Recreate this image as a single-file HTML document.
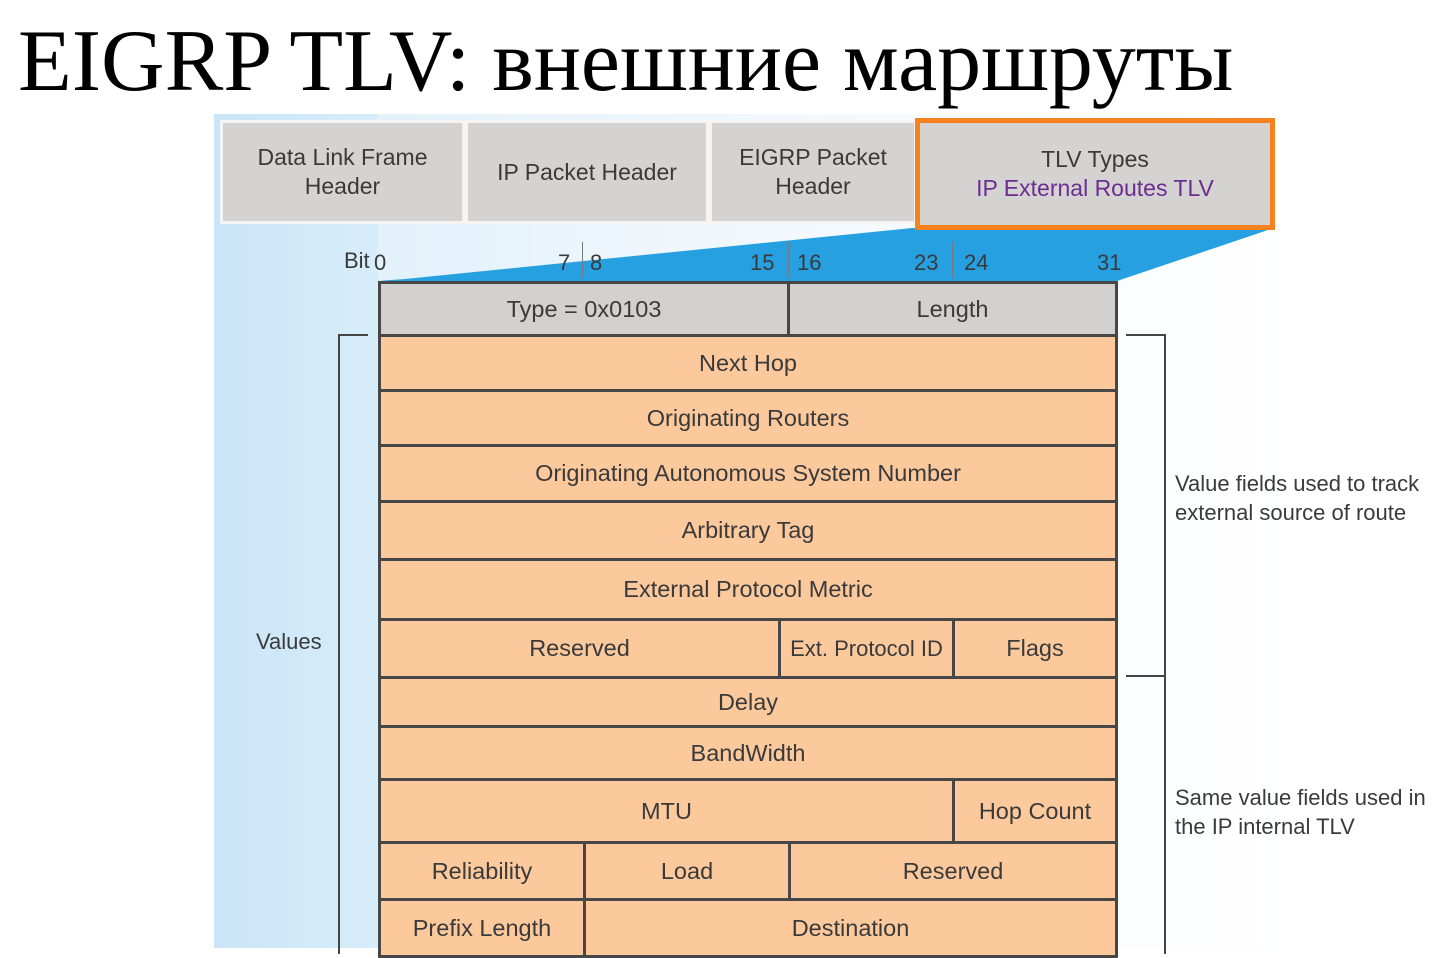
<!DOCTYPE html>
<html><head><meta charset="utf-8"><style>
body{margin:0;width:1454px;height:948px;position:relative;overflow:hidden;background:#fff;font-family:"Liberation Sans",sans-serif;}
.a{position:absolute;box-sizing:border-box;}
.c{position:absolute;box-sizing:border-box;display:flex;align-items:center;justify-content:center;text-align:center;color:#3a3a3a;font-size:23.5px;line-height:29px;}
.o{background:#fcc99d;border:3px solid #474747;}
.g{background:#d3d1cf;border:3px solid #474747;}
.h{background:#d5d3d1;border:3px solid #f4f4f4;font-size:23px;}
.t{position:absolute;color:#3a3a3a;font-size:22px;}
.r{position:absolute;color:#3a3a3a;font-family:"Liberation Sans",sans-serif;font-size:22px;line-height:29px;}
</style></head><body>
<div class="a" style="left:214px;top:114px;width:1080px;height:834px;background:linear-gradient(90deg,#cfe8f8 0%,#e0f0fa 12%,#eef6fc 40%,#f8fbfe 70%,#fff 100%);"></div>
<div class="a" style="left:214px;top:114px;width:164px;height:834px;background:linear-gradient(90deg,#c9e5f8,#d8edfa);"></div>
<div style="position:absolute;left:18px;top:12px;font-family:'Liberation Serif',serif;font-size:88px;line-height:100px;color:#000;white-space:nowrap;">EIGRP TLV: внешние маршруты</div>
<svg class="a" style="left:0;top:0" width="1454" height="948"><polygon points="912,228 1268,230 1117,281 378,281 405,279" fill="#27a0e2"/></svg>
<div class="c h" style="left:220px;top:120px;width:245px;height:104px;">Data Link Frame<br>Header</div>
<div class="c h" style="left:465px;top:120px;width:244px;height:104px;">IP Packet Header</div>
<div class="c h" style="left:709px;top:120px;width:208px;height:104px;">EIGRP Packet<br>Header</div>
<div class="c" style="left:915px;top:118px;width:360px;height:112px;background:#d5d3d1;border:5px solid #f5821f;font-size:23px;"><div>TLV Types<br><span style="color:#6b2d91;">IP External Routes TLV</span></div></div>
<div class="t" style="left:344px;top:248px;">Bit</div>
<div class="t" style="left:374px;top:250px;">0</div>
<div class="t" style="left:558px;top:250px;">7</div>
<div class="t" style="left:590px;top:250px;">8</div>
<div class="t" style="left:750px;top:250px;">15</div>
<div class="t" style="left:797px;top:250px;">16</div>
<div class="t" style="left:914px;top:250px;">23</div>
<div class="t" style="left:964px;top:250px;">24</div>
<div class="t" style="left:1097px;top:250px;">31</div>
<div class="a" style="left:582px;top:242px;width:1px;height:36px;background:#777"></div>
<div class="a" style="left:788px;top:242px;width:1px;height:36px;background:#777"></div>
<div class="a" style="left:952px;top:242px;width:1px;height:36px;background:#777"></div>
<div class="c g" style="left:378px;top:281px;width:412px;height:56px;">Type = 0x0103</div>
<div class="c g" style="left:787px;top:281px;width:331px;height:56px;">Length</div>
<div class="c o" style="left:378px;top:334px;width:740px;height:58px;">Next Hop</div>
<div class="c o" style="left:378px;top:389px;width:740px;height:58px;">Originating Routers</div>
<div class="c o" style="left:378px;top:444px;width:740px;height:59px;">Originating Autonomous System Number</div>
<div class="c o" style="left:378px;top:500px;width:740px;height:61px;">Arbitrary Tag</div>
<div class="c o" style="left:378px;top:558px;width:740px;height:63px;">External Protocol Metric</div>
<div class="c o" style="left:378px;top:618px;width:403px;height:61px;">Reserved</div>
<div class="c o" style="left:778px;top:618px;width:177px;height:61px;font-size:22px;">Ext. Protocol ID</div>
<div class="c o" style="left:952px;top:618px;width:166px;height:61px;">Flags</div>
<div class="c o" style="left:378px;top:676px;width:740px;height:52px;">Delay</div>
<div class="c o" style="left:378px;top:725px;width:740px;height:56px;">BandWidth</div>
<div class="c o" style="left:378px;top:778px;width:577px;height:66px;">MTU</div>
<div class="c o" style="left:952px;top:778px;width:166px;height:66px;">Hop Count</div>
<div class="c o" style="left:378px;top:841px;width:208px;height:60px;">Reliability</div>
<div class="c o" style="left:583px;top:841px;width:208px;height:60px;">Load</div>
<div class="c o" style="left:788px;top:841px;width:330px;height:60px;">Reserved</div>
<div class="c o" style="left:378px;top:898px;width:208px;height:60px;">Prefix Length</div>
<div class="c o" style="left:583px;top:898px;width:535px;height:60px;">Destination</div>
<div class="a" style="left:338px;top:334px;width:2px;height:620px;background:#444"></div>
<div class="a" style="left:338px;top:334px;width:30px;height:2px;background:#444"></div>
<div class="t" style="left:256px;top:629px;">Values</div>
<div class="a" style="left:1164px;top:334px;width:2px;height:620px;background:#444"></div>
<div class="a" style="left:1126px;top:334px;width:40px;height:2px;background:#444"></div>
<div class="a" style="left:1126px;top:675px;width:40px;height:2px;background:#444"></div>
<div class="r" style="left:1175px;top:469px;">Value fields used to track<br>external source of route</div>
<div class="r" style="left:1175px;top:783px;">Same value fields used in<br>the IP internal TLV</div>
</body></html>
